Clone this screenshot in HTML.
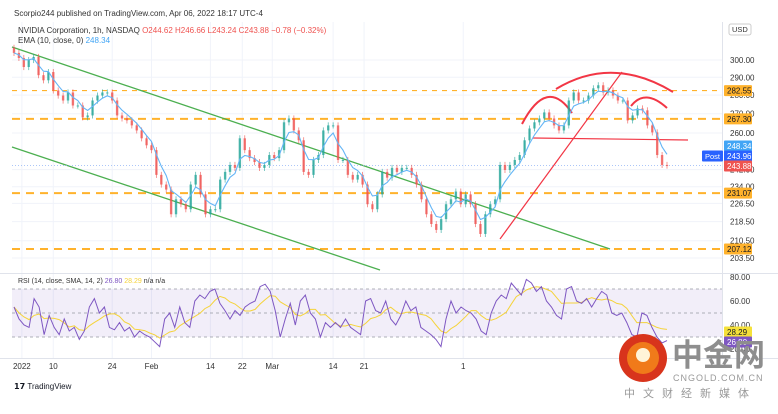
<!DOCTYPE html>
<html><head><meta charset="utf-8"><style>
body{margin:0;background:#fff;width:778px;height:409px;overflow:hidden;font-family:"Liberation Sans",sans-serif}
svg text{font-family:"Liberation Sans","Noto Sans CJK SC",sans-serif}
</style></head><body>
<svg id="c" width="778" height="409" viewBox="0 0 778 409" xmlns="http://www.w3.org/2000/svg">
<rect width="778" height="409" fill="#fff"/>
<g id="grid"></g>
<g id="drawings"></g>
<g id="candles"></g>
<g id="rsi"></g>
<g id="axis"></g>
<text x="14" y="16" font-size="8" fill="#333">Scorpio244 published on TradingView.com, Apr 06, 2022 18:17 UTC-4</text>
<text x="18" y="33" font-size="8" fill="#333">NVIDIA Corporation, 1h, NASDAQ  <tspan fill="#ef5350">O</tspan><tspan fill="#ef5350">244.62</tspan>  <tspan fill="#ef5350">H</tspan><tspan fill="#ef5350">246.66</tspan>  <tspan fill="#ef5350">L</tspan><tspan fill="#ef5350">243.24</tspan>  <tspan fill="#ef5350">C</tspan><tspan fill="#ef5350">243.88  −0.78 (−0.32%)</tspan></text>
<text x="18" y="43" font-size="8" fill="#333">EMA (10, close, 0)  <tspan fill="#42a5f5">248.34</tspan></text>
<text x="18" y="283" font-size="7" fill="#333">RSI (14, close, SMA, 14, 2)  <tspan fill="#7e57c2">26.80</tspan>  <tspan fill="#f5d33a">28.29</tspan>  n/a  n/a</text>
<text x="14" y="389" font-size="8" font-weight="bold" fill="#131722">𝟭𝟳 <tspan font-weight="normal">TradingView</tspan></text>
<g>
<circle cx="643" cy="358" r="24" fill="#d8341c"/>
<circle cx="643" cy="358" r="16" fill="#f07a1a"/>
<circle cx="643" cy="355" r="7" fill="#fff4d8"/>
<text x="672" y="366" font-size="31" font-weight="bold" fill="#8e8e8e">中金网</text>
<text x="673" y="381" font-size="9" fill="#999" letter-spacing="1">CNGOLD.COM.CN</text>
<text x="624" y="397" font-size="11" fill="#999" letter-spacing="8">中文财经新媒体</text>
</g>
</svg>
<script>
const closes=[304.2,301.2,295.9,300,301.8,291.2,288.3,293,282.6,279.8,277.1,281.5,274.4,274.4,268.1,269.1,277.1,279.8,281.5,281.5,277.1,269.1,267.5,266.5,263.9,261.3,257.3,253.8,251.4,239.5,235,232.7,221.7,228.3,226.1,223.9,235,239.5,230.5,221.7,223.9,223.9,237.3,240.9,244.2,242.8,257.3,251.4,247.5,245.6,242.8,244.2,249,247.5,251.4,265.5,267.5,261.3,256.3,240.9,239.5,246.6,249,261.3,263.9,263.9,246.6,246.6,239.5,237.3,239.5,235,226.1,223.9,230.5,240.9,238.2,242.8,240.9,242.8,242.8,239.5,235,228.3,221.7,217.5,215,219.6,226.1,228.3,231.8,226.1,230.5,226.1,217.5,213.3,221.7,226.1,228.3,244.2,241.8,244.2,246.6,249,256.3,262.3,265.5,267.5,270.7,267.5,263.9,261.3,263.9,277.1,281.5,277.1,277.1,279.8,283.8,285.5,281.5,282.6,279.8,277.1,277.1,266.5,269.1,272.8,271.8,263.9,260.3,249,244.2,243.9];
const rsiVals=[55,45,40,38,62,55,32,48,38,32,45,35,38,28,35,55,62,50,55,38,36,42,35,38,30,35,32,30,26,22,45,50,38,55,42,38,60,65,62,68,70,58,52,45,52,48,55,58,60,72,74,68,52,30,45,58,40,60,65,50,45,30,42,38,42,38,45,38,35,32,60,62,52,50,60,45,40,48,60,52,55,38,35,32,28,22,45,60,50,55,52,50,45,35,32,50,60,65,62,75,70,65,78,75,68,72,60,55,48,45,70,72,60,58,62,55,62,68,65,50,48,50,42,32,30,50,48,38,30,25,27];
const priceTicks=[300,290,280,270,260,242,234,226.5,218.5,210.5,203.5];
const levelPrices=[282.55,267.30,231.07,207.12];
const timeLabels=["2022","10","24","Feb","14","22","Mar","14","21","1"];
const timeIdx=[1.6,8,20,28,40,46.5,52.6,65,71.3,91.5];
const rsiTicks=[80,60,40,20];
const NS="http://www.w3.org/2000/svg";
function mk(p,t,a){const e=document.createElementNS(NS,t);for(const k in a)e.setAttribute(k,a[k]);p.appendChild(e);return e;}
const X0=14,X1=667;
function px(i,n){return X0+i*(X1-X0)/(n-1);}
function py(p){return 60+510*Math.log(300/p);}
function ry(v){return 277+(80-v)*1.2;}
function tx(k){return X0+timeIdx[k]*(X1-X0)/(closes.length-1);}
const G=document.getElementById('grid'),D=document.getElementById('drawings'),C=document.getElementById('candles'),R=document.getElementById('rsi'),A=document.getElementById('axis');
priceTicks.forEach(p=>{const l=mk(G,'line',{x1:12,x2:722,y1:py(p),y2:py(p),stroke:'#f0f3fa','stroke-width':1});

});
timeLabels.forEach((t,k)=>{const x=tx(k);const l=mk(G,'line',{x1:x,x2:x,y1:22,y2:358,stroke:'#f0f3fa'});

});
mk(A,'line',{x1:0,x2:778,y1:273.5,y2:273.5,stroke:'#e0e3eb'});
mk(A,'line',{x1:722.5,x2:722.5,y1:22,y2:358,stroke:'#e0e3eb'});
mk(A,'line',{x1:0,x2:778,y1:358.5,y2:358.5,stroke:'#e0e3eb'});
levelPrices.forEach((p,k)=>{const l=mk(D,'line',{x1:12,x2:722,y1:py(p),y2:py(p),stroke:'#ffb22c','stroke-width':k==0?1.2:2,'stroke-dasharray':k==0?'5 5':'8 6'});

});
[[12,47,610,249],[12,147,380,270]].forEach(s=>{const l=mk(D,'line',{x1:s[0],y1:s[1],x2:s[2],y2:s[3],stroke:'#4caf50','stroke-width':1.3});

});
[[500,239,622,72],[533,138,688,140]].forEach(s=>{const l=mk(D,'line',{x1:s[0],y1:s[1],x2:s[2],y2:s[3],stroke:'#f23645','stroke-width':1.2});

});
["M522 124 Q547 76 572 113","M556 89 Q612 55 673 92","M631 106 Q645 88 667 108"].forEach(d=>{const a=mk(D,'path',{d:d,fill:'none',stroke:'#f23645','stroke-width':2});

});
mk(D,'line',{x1:12,x2:722,y1:py(243.88),y2:py(243.88),stroke:'#90b4f5','stroke-dasharray':'1 2','stroke-width':0.8});
const n=closes.length,w=2.4;
closes.forEach((c,i)=>{const o=i?closes[i-1]:c*1.01;const up=c>=o;const col=up?'#26a69a':'#ef5350';const x=px(i,n);
const hi=Math.max(o,c)*1.006,lo=Math.min(o,c)*0.994;
const g=mk(C,'g',{});


mk(g,'line',{x1:x,x2:x,y1:py(hi),y2:py(lo),stroke:col,'stroke-width':0.8,opacity:0.75});
const y1=py(Math.max(o,c)),y2=py(Math.min(o,c));
mk(g,'rect',{x:x-w/2,y:y1,width:w,height:Math.max(1,y2-y1),fill:col,opacity:0.75});});
let e=closes[0],pts=[];closes.forEach((c,i)=>{e=i?e+(c-e)*0.4:c;pts.push(px(i,n)+','+py(e));});
const em=mk(C,'polyline',{points:pts.join(' '),fill:'none',stroke:'#64b5f6','stroke-width':1.1});


priceTicks.forEach(p=>{const t=mk(A,'text',{x:730,y:py(p)+3,'font-size':8,fill:'#333'});t.textContent=p.toFixed(2);

});
mk(A,'rect',{x:729,y:24,width:22,height:11,rx:2,fill:'#fff',stroke:'#ccc'});
const ut=mk(A,'text',{x:732,y:32,'font-size':7.5,fill:'#333'});ut.textContent='USD';
function tag(y,txt,bg,fg){const r=mk(A,'rect',{x:724,y:y-5.5,width:28,height:11,rx:1,fill:bg});const t=mk(A,'text',{x:727,y:y+3,'font-size':8,fill:fg});t.textContent=txt;

}
levelPrices.forEach(p=>tag(py(p),p.toFixed(2),'#ffb22c','#131722'));
tag(146,'248.34','#42a5f5','#fff');tag(156,'243.96','#2962ff','#fff');tag(166,'243.88','#ef5350','#fff');
mk(A,'rect',{x:702,y:150.5,width:21,height:11,rx:1,fill:'#2962ff'});
const pt=mk(A,'text',{x:705,y:159,'font-size':7.5,fill:'#fff'});pt.textContent='Post';
const band=mk(R,'rect',{x:12,y:ry(70),width:710,height:ry(30)-ry(70),fill:'#7e57c2',opacity:0.1});


[70,50,30].forEach(v=>mk(R,'line',{x1:12,x2:722,y1:ry(v),y2:ry(v),stroke:'#9598a1','stroke-dasharray':'3 3','stroke-width':0.8}));
const m=rsiVals.length;const sma=[];
rsiVals.forEach((v,i)=>{const s=rsiVals.slice(Math.max(0,i-5),i+1);sma.push(s.reduce((a,b)=>a+b,0)/s.length);});
const sl=mk(R,'polyline',{points:sma.map((v,i)=>px(i,m)+','+ry(v)).join(' '),fill:'none',stroke:'#f5d33a','stroke-width':1});


const rl=mk(R,'polyline',{points:rsiVals.map((v,i)=>px(i,m)+','+ry(v)).join(' '),fill:'none',stroke:'#7e57c2','stroke-width':1});


rsiTicks.forEach(v=>{const t=mk(A,'text',{x:730,y:ry(v)+3,'font-size':8,fill:'#333'});t.textContent=v.toFixed(2);

});
tag(332,'28.29','#f5e13a','#131722');tag(342,'26.80','#7e57c2','#fff');
timeLabels.forEach((t,k)=>{const x=tx(k);const el=mk(A,'text',{x:x,y:369,'font-size':8,fill:'#333','text-anchor':'middle'});el.textContent=t;

});
</script>
</body></html>
